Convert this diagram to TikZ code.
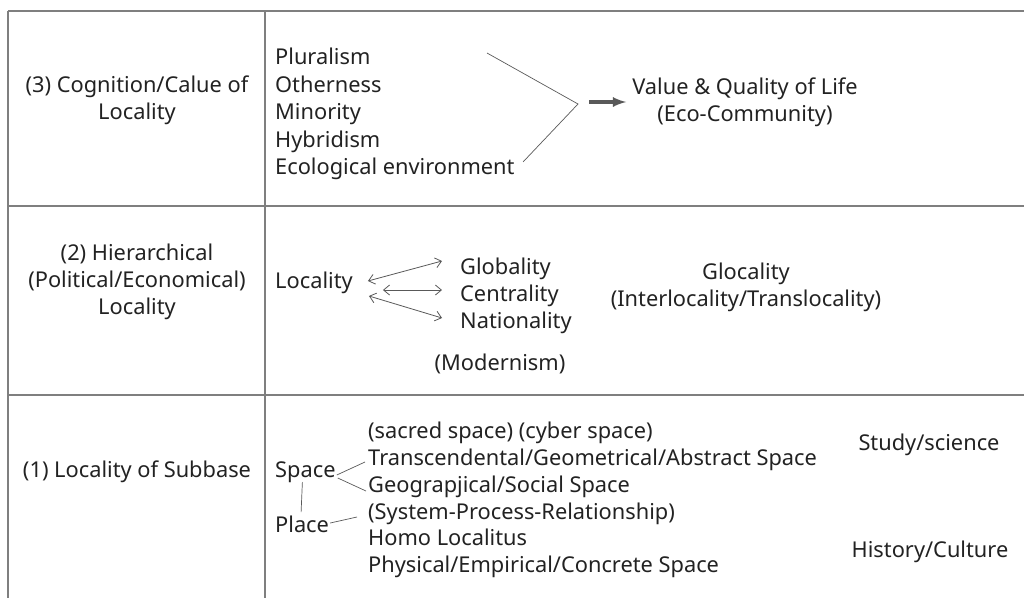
\documentclass[tikz,border=0pt]{standalone}
\usepackage{fontspec}
\setmainfont{Noto Sans}
\usetikzlibrary{positioning,arrows.meta}
\definecolor{rulegray}{HTML}{7F7F7F}
\definecolor{inkgray}{HTML}{222222}
\definecolor{arrowgray}{HTML}{595959}

\begin{document}
\begin{tikzpicture}
    [x=1pt,y=-1pt
    ,every node/.style={font=\fontsize{21.8}{27}\selectfont,text=inkgray,inner sep=0pt}
    ,item/.style={anchor=base west}
    ,cell/.style={align=center,anchor=base}
    ,grid/.style={rulegray,line width=1.3pt}
    ,link/.style={arrowgray,line width=0.7pt}
    ,dbl/.style={{Straight Barb[length=6pt,width=10pt]}-{Straight Barb[length=6pt,width=10pt]},arrowgray,line width=0.8pt}
    ,heavy/.style={->,arrowgray,line width=3.5pt,>=latex}
    ,>=latex
    ]

    \useasboundingbox (0,0) rectangle (1024,598);

    % table rules
    \draw[grid] (8,11) -- (1024,11);
    \draw[grid] (8,206) -- (1024,206);
    \draw[grid] (8,395) -- (1024,395);
    \draw[grid] (8,11) -- (8,598);
    \draw[grid] (265,11) -- (265,598);

    % (3) cognition / value
    \node[cell] (row3) at (137,119) {(3) Cognition/Calue of\\Locality};
    \node[item] (plur) at (275,64) {Pluralism};
    \node[item] (oth) at (275,92) {Otherness};
    \node[item] (mino) at (275,119) {Minority};
    \node[item] (hyb) at (275,147) {Hybridism};
    \node[item] (eco) at (275,174) {Ecological environment};
    \node[cell] (value) at (745,121.5) {Value \& Quality of Life\\(Eco-Community)};

    \coordinate (brtop) at (487,53);
    \coordinate (brtip) at (578,104);
    \coordinate (brbot) at (523,162);
    \coordinate (hvstart) at (589,102);

    \draw[link] (brtop) -- (brtip) -- (brbot);
    \draw[heavy] (hvstart) -- ([xshift=-6pt,yshift=19.5pt]value.base west);

    % (2) hierarchical
    \node[cell] (row2) at (137,314.5) {(2) Hierarchical\\(Political/Economical)\\Locality};
    \node[item] (loc) at (275,288) {Locality};
    \node[item] (glob) at (460,274) {Globality};
    \node[item] (cent) at (460,301) {Centrality};
    \node[item] (nat) at (460,328) {Nationality};
    \node[cell] (modern) at (500,370.5) {(Modernism)};
    \node[cell] (glocal) at (746,306.5) {Glocality\\(Interlocality/Translocality)};

    \draw[dbl] ([xshift=15pt,yshift=7pt]loc.base east) -- ([xshift=-18pt,yshift=13pt]glob.base west);
    \draw[dbl] ([xshift=30pt,yshift=-2pt]loc.base east) -- ([xshift=-18pt,yshift=11pt]cent.base west);
    \draw[dbl] ([xshift=16pt,yshift=-8pt]loc.base east) -- ([xshift=-18pt,yshift=10pt]nat.base west);

    % (1) subbase
    \node[cell] (row1) at (137,477) {(1) Locality of Subbase};
    \node[item] (space) at (275,477) {Space};
    \node[item] (place) at (275,532) {Place};
    \node[item] (sacred) at (368,438) {(sacred space) (cyber space)};
    \node[item] (trans) at (368,465) {Transcendental/Geometrical/Abstract Space};
    \node[item] (geo) at (368,492) {Geograpjical/Social Space};
    \node[item] (sys) at (368,519) {(System-Process-Relationship)};
    \node[item] (homo) at (368,545) {Homo Localitus};
    \node[item] (phys) at (368,572) {Physical/Empirical/Concrete Space};
    \node[cell] (study) at (929,450) {Study/science};
    \node[cell] (hist) at (930,557) {History/Culture};

    \draw[link] ([xshift=-3pt,yshift=-5pt]space.base) -- ([xshift=-1pt,yshift=20pt]place.base);
    \draw[link] ([xshift=1pt,yshift=2pt]space.base east) -- ([xshift=-3pt,yshift=3pt]trans.base west);
    \draw[link] ([xshift=2pt,yshift=-1pt]space.base east) -- ([xshift=-2pt,yshift=1pt]geo.base west);
    \draw[link] ([xshift=1pt,yshift=9pt]place.base east) -- ([xshift=-11pt,yshift=2pt]sys.base west);

\end{tikzpicture}
\end{document}
